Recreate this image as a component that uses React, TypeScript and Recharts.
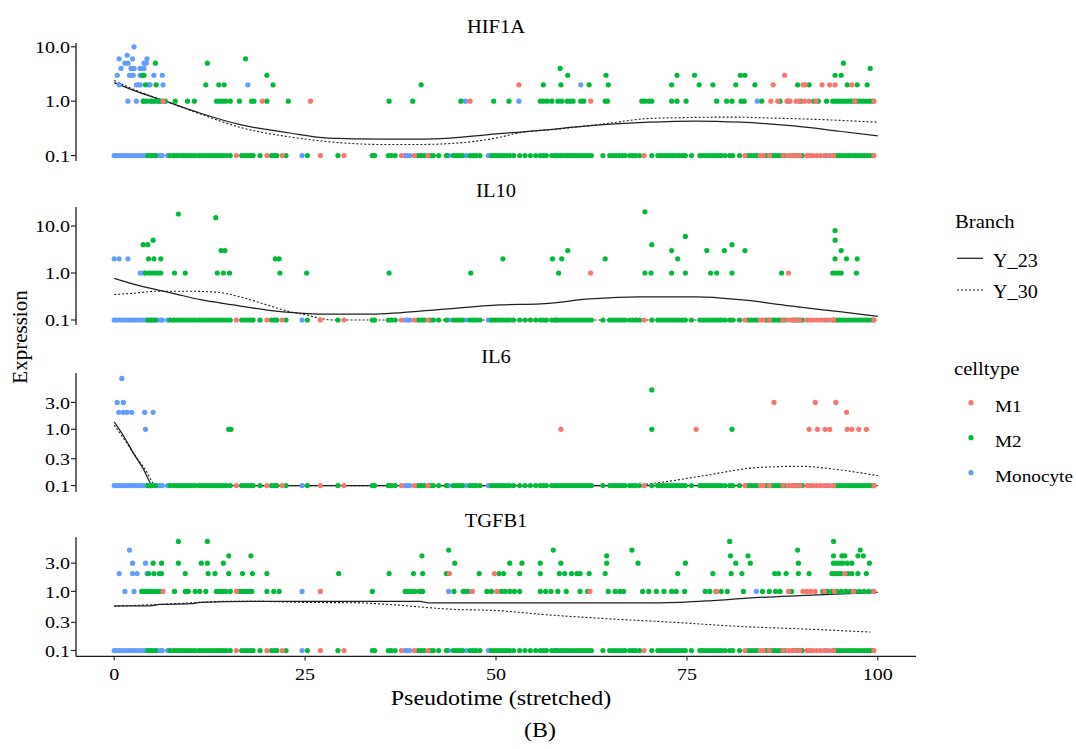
import React from 'react';
import { ComposedChart, Scatter, Line, XAxis, YAxis } from 'recharts';

type Row = [number, number[]]; // [expression, pseudotimes]
type Pt = [number, number]; // [pseudotime, expression]

const SERIF = '"Liberation Serif", "Times New Roman", Times, serif';
const COLORS = { M1: '#F8766D', M2: '#00BA38', Monocyte: '#619CFF' };
const LINE_COLOR = '#1f1f1f';
const AXIS_COLOR = '#1a1a1a';

const genes = ['HIF1A', 'IL10', 'IL6', 'TGFB1'];
const xTicks = [0, 25, 50, 75, 100];
const branches = ['Y_23', 'Y_30'];
const celltypes = ['M1', 'M2', 'Monocyte'];

// cells with zero expression (drawn at 0.1)
const m2Zero = [4.4, 4.9, 5.4, 7.3, 7.8, 8.2, 8.6, 9.0, 9.4, 9.8, 10.2, 10.6, 11.1, 11.5, 11.9, 12.3, 12.7, 13.1, 13.5, 13.9, 14.3, 14.7, 15.2, 16.7, 17.1, 17.5, 17.9, 18.2, 19.1, 20.6, 21.0, 21.3, 22.5, 25.3, 29.3, 33.8, 34.1, 35.9, 36.3, 36.8, 39.8, 40.2, 40.6, 41.4, 41.8, 42.5, 43.5, 44.4, 44.8, 45.2, 45.6, 46.6, 47.0, 47.4, 47.9, 49.4, 49.8, 50.2, 50.6, 51.0, 51.4, 51.8, 52.3, 53.1, 53.8, 54.5, 55.2, 55.8, 56.2, 56.6, 57.3, 57.7, 58.1, 58.5, 58.9, 59.3, 59.7, 60.1, 60.5, 60.9, 61.3, 61.7, 62.1, 62.5, 64.0, 64.9, 65.3, 65.7, 66.1, 66.5, 66.9, 67.5, 67.9, 68.3, 68.8, 70.4, 71.2, 71.6, 72.0, 72.4, 72.8, 73.2, 73.6, 74.0, 74.4, 74.8, 75.6, 76.7, 77.1, 77.5, 77.9, 78.3, 78.7, 79.1, 79.5, 80.0, 80.6, 81.0, 81.9, 83.0, 83.4, 83.8, 84.2, 85.4, 85.8, 86.2, 86.6, 87.0, 87.4, 87.8, 88.9, 89.3, 89.7, 90.1, 94.2, 94.6, 95.0, 95.4, 95.8, 96.2, 96.6, 97.0, 97.4, 97.8, 98.2, 98.6, 99.0, 99.4];
const m1Zero = [16.0, 20.0, 22.0, 27.0, 30.1, 37.6, 39.3, 41.1, 69.4, 82.6, 84.6, 85.0, 85.8, 87.6, 88.3, 88.7, 89.2, 89.8, 90.7, 91.1, 91.5, 92.0, 92.5, 93.0, 93.7, 94.2, 99.5];
const monoZero = [0, 0.3, 0.65, 1.0, 1.4, 1.8, 2.2, 2.6, 2.9, 3.3, 3.7, 4.1, 4.5, 4.8, 5.2, 5.6, 6.0, 6.3, 7.0, 7.8, 24.6, 38.1, 38.4, 38.7, 43.8, 46.1, 49.0, 57.9, 93.3];

// HIF1A
const hif1aM1: Row[] = [
  [3, [87.8]],
  [2, [53, 86.3, 90.2, 90.5, 92.7, 93.7, 94.4, 96.6]],
  [1, [6.4, 19.4, 25.7, 46.6, 62.4, 86.0, 86.9, 88.1, 88.5, 89.3, 89.7, 90.4, 91.0, 91.9, 97.0, 99.5]],
];
const hif1aM2: Row[] = [
  [6, [17.2]],
  [5, [5.4, 12.2, 95.5]],
  [4, [58.4, 99]],
  [3, [3.7, 3.9, 20, 59.4, 64.4, 73.7, 76, 82, 82.6, 94.4, 95.2]],
  [2, [4.1, 5.5, 12, 13.7, 14.4, 20.8, 40.2, 56.2, 58.5, 62.2, 64.7, 73, 76.6, 78.4, 81.4, 83.9, 89.5, 91, 96, 97.3, 98.6]],
  [1, [3.8, 4.3, 4.8, 5.3, 5.8, 6.2, 6.7, 8.0, 9.6, 10.5, 13.4, 13.8, 14.2, 14.6, 15.2, 16.4, 18.0, 18.3, 20.0, 22.8, 36.0, 39.1, 45.4, 49.7, 51.7, 55.8, 56.2, 56.7, 57.3, 58.1, 58.6, 59.3, 59.7, 60.1, 61.1, 61.5, 64.3, 64.6, 69.1, 69.5, 70.0, 70.4, 73.0, 73.7, 74.9, 78.9, 80.2, 80.9, 82.1, 82.5, 84.8, 87.2, 88.3, 89.9, 91.6, 92.2, 93.3, 94.1, 94.5, 94.9, 95.3, 95.7, 96.1, 96.5, 96.9, 97.3, 97.7, 98.1, 98.5, 98.9, 99.3]],
];
const hif1aMono: Row[] = [
  [10, [2.6]],
  [7, [1.7]],
  [6, [0.65, 2.4, 4.3]],
  [5, [1.4, 1.8, 3.9, 4.2]],
  [4, [0.9, 2.2, 2.6, 3.4, 3.9]],
  [3, [0.4, 2.0, 2.2, 2.5, 3.4, 3.7, 5.2, 6.3]],
  [2, [0.65, 2.9, 3.2, 3.4, 4.5, 4.7, 6.4, 17.5, 61.1]],
  [1, [1.8, 2.9, 3.9, 5.0, 5.8, 46.0, 53.0, 84.2]],
];
const hif1aY23: Pt[] = [[0, 2.2], [3, 1.5], [6.7, 1.0], [11.3, 0.6], [16.5, 0.37], [23, 0.26], [28, 0.21], [35, 0.2], [40, 0.2], [44, 0.21], [50, 0.25], [55.8, 0.29], [62, 0.35], [70, 0.41], [76, 0.43], [82, 0.41], [89, 0.35], [95, 0.28], [100, 0.23]];
const hif1aY30: Pt[] = [[0, 2.4], [3, 1.55], [6.7, 1.0], [11.3, 0.58], [16.5, 0.33], [23, 0.22], [28, 0.18], [35, 0.16], [40, 0.16], [45, 0.17], [50, 0.21], [53, 0.26], [58.4, 0.31], [64, 0.38], [70, 0.48], [75, 0.5], [80.6, 0.51], [86, 0.49], [92.4, 0.46], [100, 0.41]];

// IL10
const il10M1: Row[] = [[1, [62.4, 88.3]]];
const il10M2: Row[] = [
  [20, [69.5]],
  [18, [8.4]],
  [15, [13.3]],
  [8, [94.4]],
  [6, [74.8]],
  [5, [5.1, 94.4]],
  [4, [3.8, 4.4, 70.4, 80.9]],
  [3, [14.0, 14.5, 59.4, 73.0, 77.6, 79.9, 82.6, 95.2]],
  [2, [4.5, 5.2, 6.1, 21.1, 21.6, 50.9, 57.4, 58.6, 64.3, 73.8, 94.4, 95.9, 97.3]],
  [1, [4.1, 4.6, 5.0, 5.4, 5.8, 6.1, 7.9, 9.3, 13.5, 14.3, 15.1, 21.7, 25.2, 36.0, 46.7, 58.2, 69.5, 70.3, 73.0, 74.8, 78.1, 78.9, 80.9, 87.4, 94.1, 94.5, 94.9, 95.2, 97.2]],
];
const il10Mono: Row[] = [
  [2, [0, 0.65, 1.8]],
  [1, [3.4, 3.9]],
];
const il10Y23: Pt[] = [[0, 0.77], [3.4, 0.53], [7.7, 0.37], [11.3, 0.27], [15.6, 0.21], [20, 0.163], [24.3, 0.14], [27, 0.133], [33, 0.133], [41.8, 0.163], [50.5, 0.21], [55.8, 0.22], [62.3, 0.28], [68.8, 0.31], [76.3, 0.31], [82, 0.27], [88.5, 0.2], [95, 0.15], [100, 0.12]];
const il10Y30: Pt[] = [[0, 0.35], [2.5, 0.37], [5.6, 0.41], [9.5, 0.41], [13.5, 0.39], [16.5, 0.31], [20, 0.21], [23, 0.15], [25.2, 0.128], [26.6, 0.112], [28.7, 0.1], [40, 0.1], [60, 0.1], [80, 0.1], [100, 0.1]];

// IL6
const il6M1: Row[] = [
  [3, [86.4, 91.8, 94.5]],
  [2, [95.9]],
  [1, [58.5, 76.2, 91.0, 92.1, 93.1, 93.7, 96.0, 96.6, 97.5, 98.5]],
];
const il6M2: Row[] = [
  [5, [70.4]],
  [1, [15.0, 15.3, 70.4, 80.9]],
];
const il6Mono: Row[] = [
  [8, [1.0]],
  [3, [0.4, 1.2]],
  [2, [0.6, 1.2, 1.7, 2.3, 4.0, 5.1]],
  [1, [4.1]],
];
const il6Y23: Pt[] = [[0, 1.35], [1.3, 0.73], [2.55, 0.37], [3.8, 0.2], [5.1, 0.1], [8, 0.1], [30, 0.1], [60, 0.1], [100, 0.1]];
const il6Y30: Pt[] = [[0, 1.18], [1.4, 0.64], [2.75, 0.34], [4.1, 0.19], [5.5, 0.1], [8.5, 0.1], [30, 0.1], [60, 0.1], [67, 0.1], [70.2, 0.108], [76.7, 0.146], [84.5, 0.21], [89.8, 0.22], [95, 0.19], [100, 0.15]];

// TGFB1
const tgfb1M1: Row[] = [
  [2, [43.9, 49.8, 95.7]],
  [1, [6.4, 16.0, 27.0, 46.9, 50.1, 62.3, 78.9, 88.3, 90.2, 90.7, 91.2, 91.8, 93.0, 94.3, 96.8, 99.5]],
];
const tgfb1M2: Row[] = [
  [7, [8.4, 12.2, 80.6, 94.2]],
  [5, [43.8, 57.5, 67.8, 89.5, 97.7]],
  [4, [15.0, 17.9, 40.3, 64.5, 80.7, 83.0, 94.2, 95.3, 95.7, 97.4, 98.1]],
  [3, [5.1, 6.2, 8.4, 11.4, 12.2, 14.3, 44.6, 51.8, 53.4, 55.8, 58.5, 64.5, 68.6, 74.8, 81.4, 83.3, 89.6, 94.2, 94.6, 95.0, 95.4, 96.0, 96.6, 98.9]],
  [2, [4.5, 5.2, 5.9, 6.2, 9.3, 12.3, 13.2, 15.0, 16.8, 18.1, 20.0, 29.4, 36.0, 39.2, 40.4, 43.5, 47.8, 50.4, 51.0, 53.1, 55.8, 58.3, 59.0, 59.9, 60.6, 61.0, 62.2, 64.3, 73.8, 78.4, 80.8, 82.2, 86.5, 87.0, 88.0, 89.6, 91.0, 94.0, 94.4, 94.8, 95.2, 96.1, 96.6, 97.4, 98.5]],
  [1, [3.6, 4.0, 4.4, 4.8, 5.2, 5.6, 6.0, 7.9, 9.3, 9.7, 10.6, 11.2, 12.0, 13.4, 13.8, 14.2, 14.6, 15.2, 16.3, 16.7, 17.1, 17.6, 18.0, 20.0, 20.9, 21.6, 33.8, 38.1, 38.5, 39.0, 39.4, 40.0, 40.4, 44.5, 45.7, 46.2, 48.8, 49.4, 50.7, 51.2, 51.8, 52.4, 53.1, 55.8, 56.5, 57.2, 58.1, 59.2, 61.0, 62.0, 64.7, 65.6, 66.2, 66.7, 69.2, 70.0, 71.0, 72.0, 73.0, 73.6, 74.7, 77.4, 78.0, 78.8, 79.5, 80.3, 82.4, 84.9, 85.8, 86.6, 87.2, 88.7, 92.8, 93.4, 94.0, 94.6, 95.2, 95.8, 96.4, 97.0, 97.6, 98.2, 98.8, 99.4]],
];
const tgfb1Mono: Row[] = [
  [5, [2.0]],
  [3, [2.4, 4.1]],
  [2, [0.65, 2.4, 3.0, 4.3]],
  [1, [1.4, 2.6, 3.8, 4.2, 17.4, 24.6, 38.7, 43.8, 46.0, 46.4, 84.1]],
];
const tgfb1Y23: Pt[] = [[0, 0.57], [4.7, 0.57], [6, 0.6], [10, 0.62], [11.3, 0.65], [17.8, 0.68], [40, 0.68], [41.2, 0.64], [57, 0.64], [71.5, 0.64], [78.4, 0.7], [82.9, 0.77], [89.8, 0.85], [95.4, 0.91], [100, 0.96]];
const tgfb1Y30: Pt[] = [[0, 0.56], [5.6, 0.6], [10.2, 0.64], [14.8, 0.68], [17.8, 0.68], [25.3, 0.65], [31.8, 0.64], [36, 0.6], [40.4, 0.54], [44, 0.5], [50.5, 0.47], [55.8, 0.41], [64.5, 0.345], [73.2, 0.3], [82, 0.255], [90.7, 0.23], [99, 0.205]];

// layout per panel
const panels = [
  { gene: genes[0], m1: hif1aM1, m2: hif1aM2, mono: hif1aMono, y23: hif1aY23, y30: hif1aY30, ticks: [0.1, 1, 10], top: 42.5, h: 118, lo: -1.1, hi: 1.07 },
  { gene: genes[1], m1: il10M1, m2: il10M2, mono: il10Mono, y23: il10Y23, y30: il10Y30, ticks: [0.1, 1, 10], top: 207, h: 118, lo: -1.106, hi: 1.404 },
  { gene: genes[2], m1: il6M1, m2: il6M2, mono: il6Mono, y23: il6Y23, y30: il6Y30, ticks: [0.1, 0.3, 1, 3], top: 372.7, h: 119, lo: -1.114, hi: 1.0 },
  { gene: genes[3], m1: tgfb1M1, m2: tgfb1M2, mono: tgfb1Mono, y23: tgfb1Y23, y30: tgfb1Y30, ticks: [0.1, 0.3, 1, 3], top: 537.3, h: 119.4, lo: -1.1, hi: 0.92 },
];

const toPoints = (zeros: number[], rows: Row[]) => [
  ...zeros.map((x) => ({ x, y: 0.1 })),
  ...rows.flatMap(([y, xs]) => xs.map((x) => ({ x, y }))),
];
const toLine = (pts: Pt[]) => pts.map(([x, y]) => ({ x, y }));

const STRETCH = 1.18;

const YTick = (props: any) => {
  const { x, y, payload } = props;
  return (
    <text transform={`translate(${x},${y}) scale(${STRETCH},1)`} textAnchor="end" dy="0.36em" fontSize={17} fontFamily={SERIF} fill="#000">
      {Number(payload.value).toFixed(1)}
    </text>
  );
};
const XTick = (props: any) => {
  const { x, y, payload } = props;
  return (
    <text transform={`translate(${x},${y}) scale(${STRETCH},1)`} textAnchor="middle" dy="0.71em" fontSize={17} fontFamily={SERIF} fill="#000">
      {payload.value}
    </text>
  );
};

const dot = (color: string) => (p: any) => <circle cx={p.cx} cy={p.cy} r={2.6} fill={color} />;

const PAD = 6;

const Panel = ({ p, last }: { p: typeof panels[number]; last: boolean }) => {
  const xAxisH = last ? 45 : 0;
  return (
    <div style={{ position: 'absolute', left: 0, top: p.top - PAD }}>
      <ComposedChart width={930} height={PAD + p.h + (last ? xAxisH : PAD)} margin={{ top: PAD, right: 14, bottom: last ? 0 : PAD, left: 0 }}>
        <XAxis
          type="number"
          dataKey="x"
          domain={[-5, 105]}
          ticks={xTicks}
          allowDataOverflow
          hide={!last}
          height={xAxisH}
          tickSize={4}
          tickMargin={8}
          tick={<XTick />}
          axisLine={{ stroke: AXIS_COLOR, strokeWidth: 1.3 }}
          tickLine={{ stroke: AXIS_COLOR, strokeWidth: 1.1 }}
        />
        <YAxis
          type="number"
          dataKey="y"
          scale="log"
          domain={[Math.pow(10, p.lo), Math.pow(10, p.hi)]}
          ticks={p.ticks}
          allowDataOverflow
          width={76}
          tickSize={5}
          tickMargin={1}
          tick={<YTick />}
          axisLine={{ stroke: AXIS_COLOR, strokeWidth: 1.3 }}
          tickLine={{ stroke: AXIS_COLOR, strokeWidth: 1.1 }}
        />
        <Scatter name="Monocyte" data={toPoints(monoZero, p.mono)} fill={COLORS.Monocyte} shape={dot(COLORS.Monocyte)} isAnimationActive={false} />
        <Scatter name="M2" data={toPoints(m2Zero, p.m2)} fill={COLORS.M2} shape={dot(COLORS.M2)} isAnimationActive={false} />
        <Scatter name="M1" data={toPoints(m1Zero, p.m1)} fill={COLORS.M1} shape={dot(COLORS.M1)} isAnimationActive={false} />
        <Line data={toLine(p.y23)} dataKey="y" type="monotone" stroke={LINE_COLOR} strokeWidth={1.25} dot={false} activeDot={false} isAnimationActive={false} />
        <Line data={toLine(p.y30)} dataKey="y" type="monotone" stroke={LINE_COLOR} strokeWidth={1.1} strokeDasharray="2 2" dot={false} activeDot={false} isAnimationActive={false} />
      </ComposedChart>
    </div>
  );
};

const T = (props: any) => {
  const { x, y, anchor = 'start', size = 18, sx = STRETCH, children } = props;
  return (
    <text transform={`translate(${x},${y}) scale(${sx},1)`} textAnchor={anchor} fontSize={size} fontFamily={SERIF} fill="#000">
      {children}
    </text>
  );
};

export default function App() {
  const legendDotY = [402.7, 437.7, 472.7];
  const legendTextY = [412, 447, 482];
  const cellColors = [COLORS.M1, COLORS.M2, COLORS.Monocyte];
  return (
    <div style={{ position: 'absolute', left: 0, top: 0, width: 1076, height: 749, background: '#fff', overflow: 'hidden' }}>
      {panels.map((p, i) => (
        <Panel key={p.gene} p={p} last={i === panels.length - 1} />
      ))}
      <svg width={1076} height={749} style={{ position: 'absolute', left: 0, top: 0, pointerEvents: 'none' }}>
        {panels.map((p) => (
          <T key={p.gene} x={496} y={p.top - 10} anchor="middle" size={19} sx={1.08}>
            {p.gene}
          </T>
        ))}
        <text transform="translate(27,337) rotate(-90)" textAnchor="middle" fontSize={21} fontFamily={SERIF} fill="#000">
          Expression
        </text>
        <T x={501} y={705} anchor="middle" size={20} sx={1.2}>Pseudotime (stretched)</T>
        <T x={540} y={737} anchor="middle" size={20} sx={1.2}>(B)</T>

        <T x={955} y={228} size={18} sx={1.15}>Branch</T>
        <line x1={957} x2={983} y1={258.3} y2={258.3} stroke={LINE_COLOR} strokeWidth={1.25} />
        <T x={993} y={266.7} size={18} sx={1.12}>{branches[0]}</T>
        <line x1={957} x2={983} y1={290} y2={290} stroke={LINE_COLOR} strokeWidth={1.1} strokeDasharray="2 2" />
        <T x={993} y={298.3} size={18} sx={1.12}>{branches[1]}</T>

        <T x={954} y={375} size={18} sx={1.15}>celltype</T>
        {celltypes.map((c, i) => (
          <g key={c}>
            <circle cx={971} cy={legendDotY[i]} r={2.6} fill={cellColors[i]} />
            <T x={995} y={legendTextY[i]} size={17.5} sx={1.1}>{c}</T>
          </g>
        ))}
      </svg>
    </div>
  );
}
